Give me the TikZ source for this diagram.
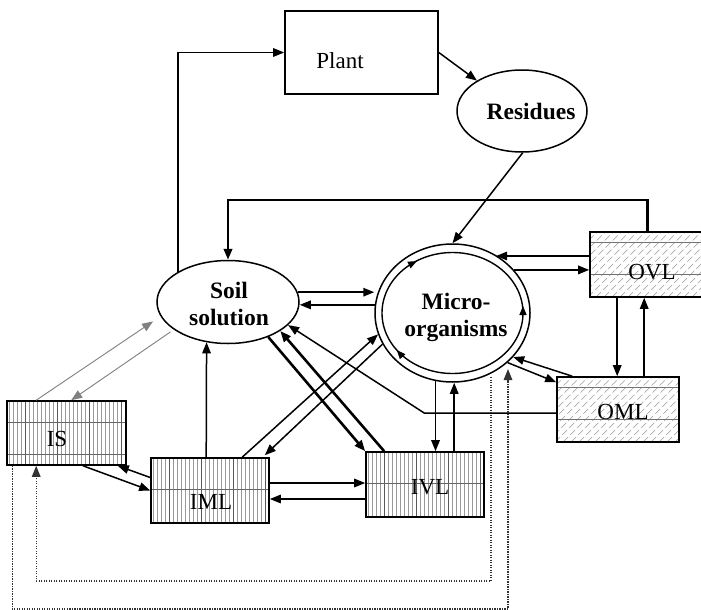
\documentclass[tikz,border=0pt]{standalone}
\usepackage{fontspec}
\setmainfont{Liberation Serif}
\usetikzlibrary{arrows.meta,calc,shapes.geometric}
\begin{document}
\begin{tikzpicture}[x=1pt,y=-1pt,line width=1.5pt,
  arr/.style={-{Triangle[length=11pt,width=8.5pt]}},
  sarr/.style={-{Triangle[length=9pt,width=7pt]}},
  thickarr/.style={arr,line width=2.6pt},
  graylin/.style={line width=0.9pt,black!50},
  dots/.style={line width=1.4pt,black!80,dash pattern=on 1.3pt off 1.2pt},
  box/.style={rectangle,draw,line width=1.6pt,fill=white,inner sep=0pt},
  ell/.style={ellipse,draw,line width=1.5pt,fill=white,inner sep=0pt},
  rtxt/.style={font=\fontsize{23}{27}\selectfont,inner sep=0pt},
  btxt/.style={font=\fontsize{23.5}{27}\selectfont\bfseries,inner sep=0pt,align=center},
  vhatch/.style={path picture={
    \foreach \i in {2,6,...,130} \draw[black!40,line width=0.7pt]
      ([xshift=\i]path picture bounding box.north west) -- ([xshift=\i]path picture bounding box.south west);
    \foreach \i in {18,50,...,130} \draw[black!65,line width=0.8pt]
      ([xshift=\i]path picture bounding box.north west) -- ([xshift=\i]path picture bounding box.south west);
    \foreach \j in {#1} \draw[black!60,line width=0.8pt]
      ([yshift=-\j]path picture bounding box.north west) -- ([yshift=-\j]path picture bounding box.north east);
  }},
  dhatch/.style={path picture={
    \foreach \i in {-90,-82,...,130} \draw[black!32,line width=0.7pt,dash pattern=on 7pt off 3pt]
      ([xshift=\i]path picture bounding box.south west) -- ++(80pt,80pt);
    \foreach \j in {#1} \draw[black!55,line width=0.8pt]
      ([yshift=-\j]path picture bounding box.north west) -- ([yshift=-\j]path picture bounding box.north east);
  }}
]
\useasboundingbox[fill=white] (0,0) rectangle (701,610);

% shapes
\node[box,minimum width=153pt,minimum height=83pt] (plant) at (361.5,52.5) {};
\node[rtxt] (planttxt) at (340,61) {Plant};
\node[ell,minimum width=130pt,minimum height=82pt] (res) at (522,111) {};
\node[btxt] (restxt) at (531,111) {Residues};
\node[ell,minimum width=142pt,minimum height=83pt] (soil) at (228,302) {};
\node[btxt] (soiltxt) at (229,304) {Soil\\solution};
\node[ell,minimum width=155pt,minimum height=138pt] (micro) at (452.5,313) {};
\node[ellipse,draw,line width=1.4pt,inner sep=0pt,minimum width=141pt,minimum height=121pt] (microin) at (452.5,313) {};
\node[btxt] (microtxt) at (456,317) {Micro-\\organisms};

\node[box,vhatch={21,53},minimum width=119pt,minimum height=64pt] (is) at (66.5,433) {};
\node[rtxt] (istxt) at (57,439) {IS};
\node[box,vhatch={31},minimum width=118pt,minimum height=65pt] (iml) at (210,490.5) {};
\node[rtxt] (imltxt) at (211,502) {IML};
\node[box,vhatch={31},minimum width=118pt,minimum height=65pt] (ivl) at (425,484.5) {};
\node[rtxt] (ivltxt) at (430,487) {IVL};
\node[box,dhatch={10,42},minimum width=115pt,minimum height=65pt] (ovl) at (647.5,264.5) {};
\node[rtxt] (ovltxt) at (652,272) {OVL};
\node[box,dhatch={10,42},minimum width=122pt,minimum height=65pt] (oml) at (618,409.5) {};
\node[rtxt] (omltxt) at (623,412) {OML};

% arrows inside micro-organisms ring
\draw[sarr] (411.6,263.7) -- (417,261);
\draw[sarr] (523,313) -- (523,306);
\draw[sarr] (400.7,354.5) -- (396.7,350);

% connectors
\draw[arr] (plant.east) -- (res.146);
\draw[arr] (res.-89) -- (micro.north);
\draw[arr] (soil.149) |- (plant.west);
\draw[arr,line width=2.3pt] (ovl.north) -- ($(ovl.north)+(0,-31)$) -| (soil.north);

\draw[arr] (soil.8) -- (soil.8 -| micro.west);
\draw[arr] (micro.174) -- (micro.174 -| soil.east);

\draw[graylin,arr,shorten >=9pt] ($(is.north west)+(30,0)$) -- (soil.192);
\draw[graylin,arr,shorten <=4pt] (soil.207) -- ($(is.north west)+(65,0)$);

\draw[arr] ($(is.south)+(16.5,0)$) -- (iml.west);
\draw[arr] ($(iml.west)+(0,-13)$) -- ($(is.south east)+(-9,0)$);
\draw[arr] ($(iml.north west)+(56,0)$) -- (soil.242);
\draw[arr] ($(iml.north west)+(92,0)$) -- (micro.196);
\draw[arr] (micro.204) -- ($(iml.north east)+(-5,-2)$);

\coordinate (m1) at ($(iml.east)+(0,-7.5)$);
\draw[arr] (m1) -- (m1 -| ivl.west);
\coordinate (m2) at ($(iml.east)+(0,8.5)$);
\draw[arr] (m2 -| ivl.west) -- (m2);

\draw[thickarr] (soil.-41) -- (ivl.north west);
\draw[thickarr] ($(ivl.north west)+(19,0)$) -- (soil.-29);

\draw[arr] ($(oml.west)+(0,3.5)$) -- ++(-132,0) -- (soil.-21);

\draw[arr] (micro.-104) -- (micro.-104 |- ivl.north);
\coordinate (v2) at ($(ivl.north west)+(89,0)$);
\draw[arr] (v2) -- (v2 |- micro.south);

\coordinate (o1) at ($(ovl.west)+(0,-8.5)$);
\draw[arr] (o1) -- (o1 -| micro.53);
\draw[arr] (micro.35) -- (micro.35 -| ovl.west);
\draw[arr] ($(oml.north west)+(16,0)$) -- (micro.-36);
\draw[arr] (micro.-42) -- ($(oml.north west)+(0,6)$);
\draw[arr] ($(ovl.south west)+(28,0)$) -- ($(oml.north west)+(61,0)$);
\draw[arr] ($(oml.north west)+(88,0)$) -- ($(ovl.south west)+(55,0)$);

\coordinate (d1) at ($(micro.center)+(38.5,64)$);
\draw[dots,arr] (d1) |- ($(is.south west)+(30,115)$) -- ($(is.south west)+(30,0)$);
\coordinate (d2) at ($(micro.center)+(55.5,56)$);
\draw[dots,arr] ($(is.south west)+(6,0)$) -- ($(is.south west)+(6,143)$) -| (d2);
\end{tikzpicture}
\end{document}
